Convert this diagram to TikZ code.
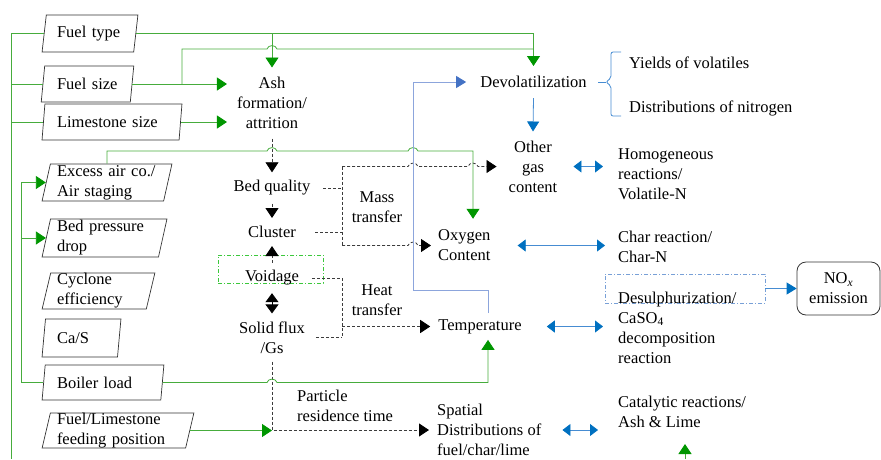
\documentclass[tikz,border=0pt]{standalone}
\usepackage{fontspec}
\setmainfont{Liberation Serif}
\newfontfamily\tnr{Liberation Serif}
\usetikzlibrary{shapes.geometric,arrows.meta}
\definecolor{gline}{RGB}{70,172,60}
\definecolor{ghead}{RGB}{0,150,0}
\definecolor{bline}{RGB}{70,140,210}
\definecolor{bhead}{RGB}{0,112,192}
\definecolor{pline}{RGB}{140,165,220}
\definecolor{phead}{RGB}{68,114,196}
\definecolor{dline}{RGB}{60,60,60}
\definecolor{vgreen}{RGB}{60,200,60}
\definecolor{dbox}{RGB}{120,160,215}
\newcommand{\fsz}{\tnr\fontsize{16.5pt}{20pt}\selectfont}
\begin{document}
\begin{tikzpicture}[x=1pt,y=-1pt,
  every node/.style={font=\fsz, inner sep=0pt},
  inp/.style={trapezium, trapezium left angle=78, trapezium right angle=102,
    trapezium stretches=true, draw=black!80, line width=0.7pt, align=left},
  txt/.style={align=center},
  ltxt/.style={align=left, anchor=west},
  gl/.style={draw=gline, line width=0.8pt},
  ga/.style={gl, -{Triangle[length=10pt,width=13pt,color=ghead]}},
  dl/.style={draw=dline, line width=0.8pt, dash pattern=on 3pt off 2pt},
  da/.style={dl, -{Triangle[length=10pt,width=13pt,color=black]}},
  dda/.style={draw=black, line width=0.8pt, {Triangle[length=9pt,width=13pt]}-{Triangle[length=9pt,width=13pt]}},
  ba/.style={draw=bline, line width=0.8pt, -{Triangle[length=10pt,width=12pt,color=bhead]}},
  bda/.style={draw=bline, line width=0.8pt, {Triangle[length=8pt,width=12pt,color=bhead]}-{Triangle[length=8pt,width=12pt,color=bhead]}},
  pa/.style={draw=pline, line width=0.8pt, -{Triangle[length=10pt,width=12pt,color=phead]}}
]
\useasboundingbox (0,0) rectangle (881,459);

% ---- input parallelograms
\node[inp, text width=66pt, minimum width=96pt, minimum height=37pt] (ftype) at (90,33.5) {Fuel type};
\node[inp, text width=61pt, minimum width=93pt, minimum height=36pt] (fsize) at (87.5,84) {Fuel size};
\node[inp, text width=110pt, minimum width=140pt, minimum height=36pt] (lsize) at (112,122) {Limestone size};
\node[inp, text width=100pt, minimum width=130pt, minimum height=37pt] (exair) at (107,182.5) {Excess air co./\\Air staging};
\node[inp, text width=95pt, minimum width=125pt, minimum height=38pt] (bpd) at (104.5,238) {Bed pressure\\drop};
\node[inp, text width=83pt, minimum width=113pt, minimum height=36pt] (cyc) at (98.5,291) {Cyclone\\efficiency};
\node[inp, text width=49pt, minimum width=79pt, minimum height=38pt] (cas) at (81.5,338) {Ca/S};
\node[inp, text width=92pt, minimum width=122pt, minimum height=35pt] (bload) at (103,382.5) {Boiler load};
\node[inp, text width=122pt, minimum width=152pt, minimum height=35pt] (feed) at (118,430.5) {Fuel/Limestone\\feeding position};

% ---- middle column
\node[txt, inner xsep=10pt, inner ysep=9.5pt] (ash) at (272,103) {Ash\\formation/\\attrition};
\node[txt, inner xsep=0pt, inner ysep=8pt] (bedq) at (272,188) {Bed quality};
\node[txt, inner xsep=0pt, inner ysep=8pt] (cluster) at (272,232) {Cluster};
\node[draw=vgreen, line width=0.6pt, dash pattern=on 4pt off 2pt on 1pt off 2pt,
      minimum width=105pt, minimum height=28pt] (vbox) at (270.5,269) {};
\node[txt, inner xsep=0pt, inner ysep=7.5pt] (voidage) at (272,278) {Voidage};
\node[txt, inner xsep=0pt, inner ysep=8pt] (solid) at (272,337.5) {Solid flux\\/Gs};
\node[txt] (mass) at (377,207) {Mass\\transfer};
\node[txt] (heat) at (377,300) {Heat\\transfer};
\node[ltxt] (particle) at (297,406) {Particle\\residence time};

% ---- right-middle column
\node[txt, inner xsep=14pt, inner ysep=10pt] (devol) at (533.5,82) {Devolatilization};
\node[txt, inner xsep=12pt, inner ysep=9pt] (other) at (533,166.5) {Other\\gas\\content};
\node[ltxt, inner xsep=7pt, inner ysep=11pt] (oxy) at (431,245.5) {Oxygen\\Content};
\node[txt, inner xsep=8pt, inner ysep=6pt] (temp) at (480,326.5) {Temperature};
\node[ltxt, inner xsep=8pt] (spatial) at (429,430) {Spatial\\Distributions of\\fuel/char/lime};

% ---- right column
\node[ltxt] (yields) at (629,63) {Yields of volatiles};
\node[ltxt] (distn) at (629,108) {Distributions of nitrogen};
\node[ltxt] (homog) at (618,174) {Homogeneous\\reactions/\\Volatile-N};
\node[ltxt] (charr) at (618,247) {Char reaction/\\Char-N};
\node[draw=dbox, line width=0.6pt, dash pattern=on 4pt off 2pt on 1pt off 2pt,
      minimum width=160pt, minimum height=29pt] (desbox) at (685,288.5) {};
\node[ltxt] (desul) at (618,327.5) {Desulphurization/\\CaSO\textsubscript{4}\\decomposition\\reaction};
\node[ltxt] (catal) at (618,412) {Catalytic reactions/\\Ash \& Lime};
\node[draw=black!80, line width=0.8pt, rounded corners=9pt, align=center,
      minimum width=83pt, minimum height=53pt] (nox) at (838.5,288.5) {NO\textsubscript{\textit{x}}\\emission};

% ---- coordinates for buses and corners
\coordinate (busb) at (11,459);
\coordinate (ibus) at (21,0);
\coordinate (fb) at (182,84);
\coordinate (fc) at (182,49);
\coordinate (oxin) at (473,151);
\coordinate (mt1) at (342,166.5);
\coordinate (mt2) at (342,245.5);
\coordinate (ht1) at (342,278);
\coordinate (ht2) at (342,337.5);
\coordinate (pb1) at (413,290);
\coordinate (gb1) at (685,459);
\coordinate (gb2) at (685,444);

% ---- left bus lines
\draw[gl] (ftype.left side) -| (busb);
\draw[gl] (fsize.left side) -- (fsize.left side -| busb);
\draw[gl] (lsize.left side) -- (lsize.left side -| busb);

% boiler load feedback bus
\draw[ga] (bload.left side) -| (ibus |- exair.left side) -- (exair.left side);
\draw[ga] (ibus |- bpd.left side) -- (bpd.left side);

% fuel type -> devolatilization and ash
\draw[ga] (ftype.right side) -| (devol.north);
\draw[ga] (ftype.right side -| ash.north) -- (ash.north);

% fuel size -> ash, and branch to devolatilization
\draw[ga] (fsize.right side) -- (fsize.right side -| ash.west);
\draw[gl] (fb) -- (fc) -- (267,49) .. controls (268,44.5) and (276,44.5) .. (277,49) -- (fc -| devol.north);

% limestone size -> ash
\draw[ga] (lsize.right side) -- (lsize.right side -| ash.west);

% excess air -> oxygen content
\draw[ga] (exair.north) -- (exair.north |- oxin) -- (267,151) .. controls (268,146.5) and (276,146.5) .. (277,151)
   -- (408,151) .. controls (409,146.5) and (417,146.5) .. (418,151) -- (oxin) -- (oxin |- oxy.north);

% middle column chain
\draw[da] (ash.south) -- (bedq.north);
\draw[da] (bedq.south) -- (cluster.north);
\draw[da] (voidage.north) -- (cluster.south);
\draw[dda] (voidage.south) -- (solid.north);
\draw[da] (solid.south) |- (spatial.west);

% feeding position
\draw[ga] (feed.right side) -- (feed.right side -| solid.south);

% boiler load -> temperature
\draw[ga] (bload.right side) -- (267,382.5) .. controls (268,378) and (276,378) .. (277,382.5)
   -- (488,382.5) -- ([xshift=8pt]temp.south);

% mass transfer
\draw[dl] ([xshift=13pt]bedq.east) -- (bedq.east -| mt1);
\draw[dl] ([xshift=19pt]cluster.east) -- (cluster.east -| mt1);
\draw[dl] (mt1) -- (mt2);
\draw[da] (mt1) -- (408,166.5) .. controls (409,162) and (417,162) .. (418,166.5)
   -- (468,166.5) .. controls (469,162) and (477,162) .. (478,166.5) -- (other.west);
\draw[da] (mt2) -- (408,245.5) .. controls (409,241) and (417,241) .. (418,245.5) -- (oxy.west);

% heat transfer
\draw[dl] ([xshift=13pt]voidage.east) -- (voidage.east -| ht1);
\draw[dl] ([xshift=11pt]solid.east) -- (solid.east -| ht2);
\draw[dl] (ht1) -- (ht2);
\draw[da] (ht1 |- temp.west) -- (temp.west);

% temperature -> devolatilization (blue)
\draw[pa] ([xshift=8pt]temp.north) |- (pb1) |- (devol.west);

% devolatilization -> other gas content
\draw[ba] (devol.south) -- (other.north);

% brace
\draw[bline, line width=0.8pt, rounded corners=2pt]
  (621,52) -- (611,52) -- (611,78) -- (606,82) -- (611,86) -- (611,116) -- (621,116);
\draw[bline, line width=0.8pt] (598,82) -- (606,82);

% double arrows
\draw[bda] ([xshift=4pt]other.east) -- ([xshift=-15pt]homog.west |- other.east);
\draw[bda] ([xshift=20pt]oxy.east) -- ([xshift=-13pt]charr.west |- oxy.east);
\draw[bda] ([xshift=17pt]temp.east) -- ([xshift=-15pt]desul.west |- temp.east);
\draw[bda] ([xshift=13pt]spatial.east) -- ([xshift=-20pt]catal.west |- spatial.east);

% desulphurization box -> NOx
\draw[ba] (desbox.east) -- (nox.west);

% bottom green arrow
\draw[ga] (gb1) -- (gb2);
\end{tikzpicture}
\end{document}
